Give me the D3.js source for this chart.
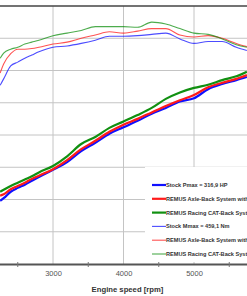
<html>
<head>
<style type="text/css">
  body { margin: 0; background: #fff; }
  text { font-family: "Liberation Sans", Arial, sans-serif; }
</style>
<script src="https://cdn.jsdelivr.net/npm/d3@7"></script>
</head>
<body>
<div id="chart"></div>
<script>

var rpm = [2250, 2300, 2400, 2500, 2600, 2700, 2800, 3000, 3200, 3400, 3600,
           3800, 4000, 4200, 4400, 4600, 4800, 5000, 5200, 5400, 5600, 5750];

// power curves [HP]
var powerStock  = [98, 102, 112, 118, 123, 129, 135, 146, 158, 175, 188,
                   202, 212, 222, 233, 242, 252, 257, 271, 279, 285, 290];
var powerAxle   = [106, 108, 116, 121, 126, 132, 137, 147, 161, 178, 191,
                   205, 216, 225, 235, 245, 254, 262, 274, 281, 287, 293];
var powerRacing = [112, 115, 121, 126, 131, 136, 142, 152, 167, 186, 197,
                   211, 221, 231, 242, 256, 266, 273, 278, 285, 291, 298];

// torque curves [Nm]
var torqueStock  = [377, 387, 407, 413, 419, 424, 429, 436, 438, 442, 447,
                    453, 453, 454, 456, 458, 449, 442, 445, 445, 436, 431];
var torqueAxle   = [396, 410, 426, 433, 433, 434, 436, 441, 444, 450, 455,
                    460, 458, 461, 465, 465, 455, 452, 454, 450, 442, 437];
var torqueRacing = [419, 427, 433, 436, 441, 444, 447, 454, 458, 462, 468,
                    468, 468, 467, 475, 472, 465, 458, 456, 449, 440, 436];

var xTicks = [3000, 4000, 5000];
var xMinorTicks = [2500, 3500, 4500, 5500];
var yGrid = [150, 200, 250, 300, 350, 400, 450];

var legendLabels = [
  "Stock Pmax = 316,9 HP",
  "REMUS Axle-Back System with",
  "REMUS Racing CAT-Back System",
  "Stock Mmax = 459,1 Nm",
  "REMUS Axle-Back System with",
  "REMUS Racing CAT-Back System"
];

var colors = ["#1010ff", "#ff1a1a", "#119011"];

var width = 247, height = 296;

var svg = d3.select("#chart").append("svg")
    .attr("width", width)
    .attr("height", height);

var x = d3.scaleLinear().domain([2000, 6000]).range([-17.5, 264.5]);
var yT = d3.scaleLinear().domain([100, 500]).range([264, 6]);
var yP = d3.scaleLinear().domain([0, 400]).range([264, 6]);

// grid
svg.selectAll(".hgrid")
    .data(yGrid)
  .enter().append("line")
    .attr("x1", 0).attr("x2", width)
    .attr("y1", function(d) { return yT(d); })
    .attr("y2", function(d) { return yT(d); })
    .style("stroke", "#c4c4c4").style("stroke-width", 1);

svg.selectAll(".vgrid")
    .data(xTicks)
  .enter().append("line")
    .attr("x1", function(d) { return x(d); })
    .attr("x2", function(d) { return x(d); })
    .attr("y1", yT(500)).attr("y2", yT(100))
    .style("stroke", "#c4c4c4").style("stroke-width", 1);

// top frame
svg.append("line")
    .attr("x1", 0).attr("x2", width)
    .attr("y1", yT(500)).attr("y2", yT(500))
    .style("stroke", "#444").style("stroke-width", 1.6);

// curves
var lineT = d3.line()
    .x(function(d) { return x(d[0]); })
    .y(function(d) { return yT(d[1]); })
    .curve(d3.curveMonotoneX);
var lineP = d3.line()
    .x(function(d) { return x(d[0]); })
    .y(function(d) { return yP(d[1]); })
    .curve(d3.curveMonotoneX);

var torqueSeries = [torqueStock, torqueAxle, torqueRacing];
var powerSeries = [powerStock, powerAxle, powerRacing];

torqueSeries.forEach(function(s, i) {
  svg.append("path")
      .datum(d3.zip(rpm, s))
      .attr("d", lineT)
      .style("fill", "none")
      .style("stroke", colors[i])
      .style("stroke-opacity", 0.75)
      .style("stroke-width", 1.1);
});

powerSeries.forEach(function(s, i) {
  svg.append("path")
      .datum(d3.zip(rpm, s))
      .attr("d", lineP)
      .style("fill", "none")
      .style("stroke", colors[i])
      .style("stroke-width", 2.2);
});

// legend
var lg = svg.append("g").attr("class", "legend");
lg.append("rect")
    .attr("x", 145).attr("y", 167)
    .attr("width", 110).attr("height", 95)
    .style("fill", "#fff");

var item = lg.selectAll(".item")
    .data(legendLabels)
  .enter().append("g")
    .attr("transform", function(d, i) { return "translate(0," + (185 + i * 13.8) + ")"; });

item.append("line")
    .attr("x1", 152).attr("x2", 166)
    .attr("y1", 0).attr("y2", 0)
    .style("stroke", function(d, i) { return colors[i % 3]; })
    .style("stroke-opacity", function(d, i) { return i < 3 ? 1 : 0.75; })
    .style("stroke-width", function(d, i) { return i < 3 ? 2.2 : 1.1; });

item.append("text")
    .attr("x", 166).attr("y", 2)
    .style("font-size", "5.6px")
    .style("font-weight", "bold")
    .style("fill", "#333")
    .text(function(d) { return d; });

// x axis
var xAxis = d3.axisBottom(x).tickValues(xTicks).tickFormat(d3.format("d"))
    .tickSize(0).tickPadding(7);
var ax = svg.append("g")
    .attr("transform", "translate(0," + yT(100) + ")")
    .call(xAxis);
ax.select(".domain").remove();
ax.selectAll("text")
    .style("font-size", "7.5px")
    .style("fill", "#555")
    .style("font-family", "'Liberation Sans', Arial, sans-serif");

svg.append("line")
    .attr("x1", 0).attr("x2", width)
    .attr("y1", yT(100) + 0.5).attr("y2", yT(100) + 0.5)
    .style("stroke", "#555").style("stroke-width", 2);

svg.selectAll(".minor")
    .data(xMinorTicks)
  .enter().append("line")
    .attr("x1", function(d) { return x(d); })
    .attr("x2", function(d) { return x(d); })
    .attr("y1", yT(100) - 2).attr("y2", yT(100) + 3)
    .style("stroke", "#777").style("stroke-width", 1);

svg.append("text")
    .attr("x", x(4000) + 4).attr("y", 292)
    .attr("text-anchor", "middle")
    .style("font-size", "7.7px")
    .style("font-weight", "bold")
    .style("fill", "#333")
    .text("Engine speed [rpm]");

</script>
</body>
</html>
